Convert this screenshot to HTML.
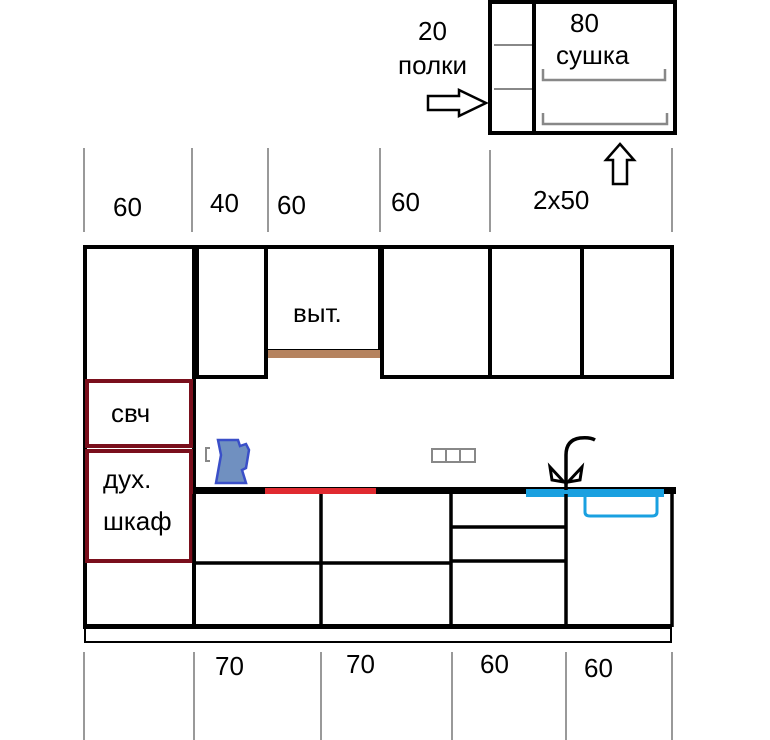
<!DOCTYPE html>
<html><head><meta charset="utf-8"><style>
html,body{margin:0;padding:0;background:#fff;}
svg{display:block;}
text{font-family:"Liberation Sans","DejaVu Sans",sans-serif;font-size:26px;fill:#000;}
</style></head><body>
<svg width="770" height="740" viewBox="0 0 770 740" xmlns="http://www.w3.org/2000/svg">
<rect x="490" y="2" width="185" height="131" fill="none" stroke="#000" stroke-width="4"/>
<line x1="534" y1="2" x2="534" y2="133" stroke="#000" stroke-width="4"/>
<line x1="494" y1="45" x2="532" y2="45" stroke="#888" stroke-width="2"/>
<line x1="494" y1="89" x2="532" y2="89" stroke="#888" stroke-width="2"/>
<path d="M543 69 V80 H665 V69 M543 113 V124 H667 V113" fill="none" stroke="#888" stroke-width="2.5"/>
<text x="418" y="40">20</text>
<text x="398" y="74">полки</text>
<text x="570" y="32">80</text>
<text x="556" y="64">сушка</text>
<path d="M428 96 H459 V90 L486 103 L459 116 V110 H428 Z" fill="#fff" stroke="#000" stroke-width="2.5"/>
<path d="M620 144 L634 160 H627 V184 H613 V160 H606 Z" fill="#fff" stroke="#000" stroke-width="2.5"/>
<g stroke="#999" stroke-width="2">
<line x1="84" y1="148" x2="84" y2="232"/><line x1="192" y1="148" x2="192" y2="232"/>
<line x1="268" y1="148" x2="268" y2="232"/><line x1="380" y1="148" x2="380" y2="232"/>
<line x1="490" y1="150" x2="490" y2="232"/><line x1="672" y1="148" x2="672" y2="232"/>
</g>
<text x="113" y="216">60</text><text x="210" y="212">40</text><text x="277" y="214">60</text>
<text x="391" y="211">60</text><text x="533" y="209">2x50</text>
<g fill="none" stroke="#000" stroke-width="4">
<rect x="85" y="247" width="109" height="380"/>
<rect x="197" y="247" width="69" height="130"/>
<rect x="266" y="247" width="114" height="104"/>
<rect x="382" y="247" width="108" height="130"/>
<rect x="490" y="247" width="92" height="130"/>
<rect x="582" y="247" width="90" height="130"/>
</g>
<rect x="268" y="350" width="112" height="8" fill="#b5835f"/>
<text x="293" y="322">выт.</text>
<rect x="87" y="381" width="104" height="65" fill="none" stroke="#7a0f1c" stroke-width="4"/>
<rect x="87" y="451" width="104" height="110" fill="none" stroke="#7a0f1c" stroke-width="4"/>
<text x="111" y="422">свч</text>
<text x="103" y="488">дух.</text>
<text x="103" y="530">шкаф</text>
<path d="M210 448 H206 V461 H210" fill="none" stroke="#888" stroke-width="2"/>
<path d="M218 440 H238 L240 446 L246 444 L249 450 L246 468 L242 470 L246 483 H216 L221 455 Z" fill="#7090c0" stroke="#3a4fc8" stroke-width="2.5"/>
<rect x="432" y="449" width="43" height="13" fill="none" stroke="#888" stroke-width="2"/>
<line x1="446" y1="449" x2="446" y2="462" stroke="#888" stroke-width="2"/>
<line x1="460" y1="449" x2="460" y2="462" stroke="#888" stroke-width="2"/>
<rect x="194" y="487" width="482" height="7" fill="#000"/>
<rect x="265" y="488" width="111" height="6" fill="#e02a30"/>
<rect x="526" y="489" width="138" height="8" fill="#1aa0e0"/>
<path d="M585 497 V512 Q585 516 590 516 H652 Q657 516 657 512 V497" fill="none" stroke="#1aa0e0" stroke-width="3"/>
<path d="M566 490 V455 Q566 440 580 438 Q590 437 595 440" fill="none" stroke="#000" stroke-width="3.5"/>
<path d="M550 467 L564 482 L552 480 Z M582 467 L568 482 L580 480 Z" fill="#fff" stroke="#000" stroke-width="3"/>
<g fill="none" stroke="#000" stroke-width="3.5">
<line x1="194" y1="494" x2="194" y2="627"/>
<line x1="672" y1="494" x2="672" y2="627"/>
<line x1="321" y1="494" x2="321" y2="627"/>
<line x1="451" y1="494" x2="451" y2="627"/>
<line x1="566" y1="494" x2="566" y2="627"/>
<line x1="194" y1="563" x2="451" y2="563"/>
<line x1="451" y1="527" x2="566" y2="527"/>
<line x1="451" y1="561" x2="566" y2="561"/>
</g>
<rect x="84" y="624" width="588" height="5" fill="#000"/>
<rect x="85" y="628" width="586" height="14" fill="none" stroke="#000" stroke-width="2"/>
<g stroke="#999" stroke-width="2">
<line x1="84" y1="652" x2="84" y2="740"/><line x1="194" y1="652" x2="194" y2="740"/>
<line x1="321" y1="652" x2="321" y2="740"/><line x1="452" y1="652" x2="452" y2="740"/>
<line x1="566" y1="652" x2="566" y2="740"/><line x1="672" y1="652" x2="672" y2="740"/>
</g>
<text x="215" y="675">70</text><text x="346" y="673">70</text>
<text x="480" y="673">60</text><text x="584" y="677">60</text>
</svg>
</body></html>
